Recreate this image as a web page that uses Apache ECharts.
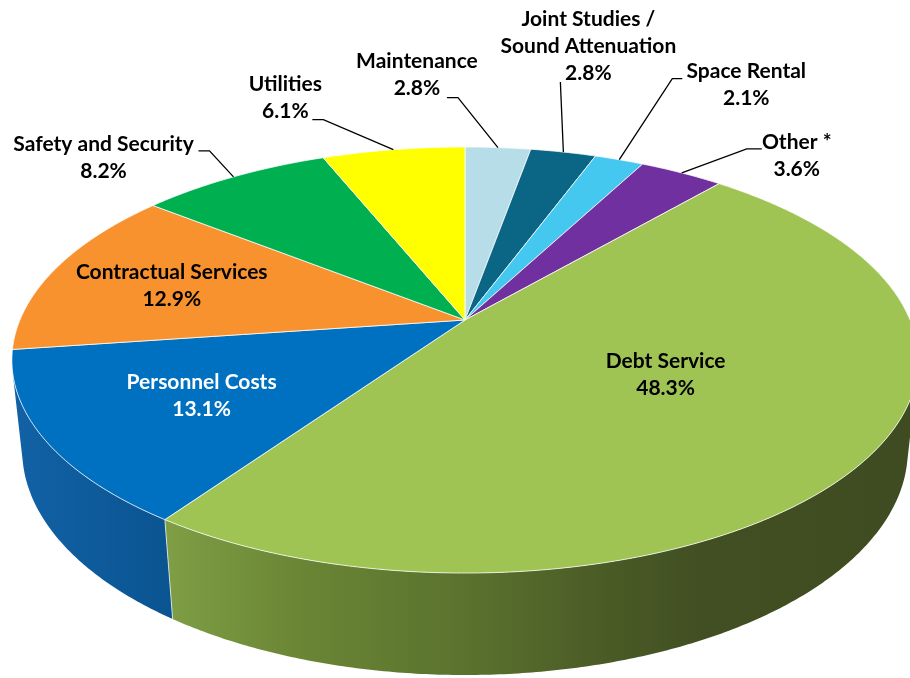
<!DOCTYPE html>
<html>
<head>
<meta charset="utf-8">
<title>Operating Expenses</title>
<script src="https://cdn.jsdelivr.net/npm/echarts@6/dist/echarts.min.js"></script>
<style>
  html, body { margin: 0; padding: 0; background: #ffffff; }
  #chart { width: 910px; height: 678px; }
</style>
</head>
<body>
<div id="chart"></div>
<script>
// ---- data -------------------------------------------------------------
const categories = [
  'Maintenance',
  'Joint Studies /\nSound Attenuation',
  'Space Rental',
  'Other *',
  'Debt Service',
  'Personnel Costs',
  'Contractual Services',
  'Safety and Security',
  'Utilities'
];
const shares = [2.8, 2.8, 2.1, 3.6, 48.3, 13.1, 12.9, 8.2, 6.1];

// ---- styles -----------------------------------------------------------
const topColors = [
  '#b7dee8', '#0b6585', '#45c8f0', '#7030a0', '#9fc454',
  '#0070c0', '#f8922e', '#00b050', '#ffff00'
];
const wallFills = {
  4: new echarts.graphic.LinearGradient(170, 0, 910, 0, [
    { offset: 0, color: '#7e9d44' },
    { offset: 0.18, color: '#6a8535' },
    { offset: 0.4, color: '#5a722e' },
    { offset: 0.58, color: '#4b5c26' },
    { offset: 0.72, color: '#414f22' },
    { offset: 1, color: '#3f4c21' }
  ], true),
  5: new echarts.graphic.LinearGradient(10, 0, 178, 0, [
    { offset: 0, color: '#1262a6' },
    { offset: 1, color: '#0a5390' }
  ], true)
};
// label placement relative to the rim point at each slice's middle angle;
// ax/ay/hl describe the leader line attachment and its short horizontal run
const labelLayout = [
  { dx: -81, dy: -73, ax: 30, ay: 23, hl: 11 },
  { dx: 25, dy: -106, ax: -28, ay: 36, hl: 0 },
  { dx: 127, dy: -75, ax: -64, ay: -6, hl: -10 },
  { dx: 115, dy: -17, ax: -35, ay: -7, hl: -15 },
  { dx: -197, dy: -87 },
  { dx: 157, dy: -44, color: '#ffffff' },
  { dx: 116, dy: 17 },
  { dx: -130, dy: -19, ax: 95, ay: -7, hl: 11 },
  { dx: -108, dy: -52, ax: 27, ay: 22, hl: 11 }
];
const LABEL_FONT = 'bold 21px Lato, "Open Sans", sans-serif';

// ---- perspective view of a tilted disc ------------------------------
const VIEW = { cx: 465, cy: 320, f: 2102, D: 4.723, sinA: 0.4618, cosA: 0.887, h: 0.23 };
function project(X, Z, Y) {
  const depth = VIEW.D - Y * VIEW.sinA - Z * VIEW.cosA;
  const up = Y * VIEW.cosA - Z * VIEW.sinA;
  return [VIEW.cx + VIEW.f * X / depth, VIEW.cy - VIEW.f * up / depth];
}
// angle in degrees, clockwise from the back of the disc
function rim(deg, Y) {
  const r = deg * Math.PI / 180;
  return project(Math.sin(r), -Math.cos(r), Y || 0);
}
// outer wall faces the camera only where Z exceeds this value
const zVisible = 1 / (VIEW.D * VIEW.cosA);
const VIS0 = Math.acos(-zVisible) * 180 / Math.PI;
const VIS1 = 360 - VIS0;

const total = shares.reduce((a, b) => a + b, 0);
const starts = [];
shares.reduce((acc, v) => { starts.push(acc); return acc + v; }, 0);
const seriesData = shares.map((v, i) => [v, starts[i]]);

function sliceAngles(api) {
  const v = api.value(0), s = api.value(1);
  return [s / total * 360, (s + v) / total * 360];
}
function arc(a0, a1, Y) {
  const pts = [];
  const n = Math.max(2, Math.ceil(Math.abs(a1 - a0) / 0.5));
  for (let k = 0; k <= n; k++) pts.push(rim(a0 + (a1 - a0) * k / n, Y));
  return pts;
}

function renderWall(params, api) {
  const i = params.dataIndex;
  const [a0, a1] = sliceAngles(api);
  const lo = Math.max(a0, VIS0), hi = Math.min(a1, VIS1);
  if (hi <= lo) return { type: 'group', children: [] };
  const topArc = arc(lo, hi, 0);
  const botArc = arc(hi, lo, -VIEW.h);
  const children = [{
    type: 'polygon',
    shape: { points: topArc.concat(botArc) },
    style: { fill: wallFills[i] || topColors[i] }
  }];
  if (a0 >= VIS0 && a0 <= VIS1) {
    const p = rim(a0, 0), q = rim(a0, -VIEW.h);
    children.push({
      type: 'line',
      shape: { x1: p[0], y1: p[1], x2: q[0], y2: q[1] },
      style: { stroke: 'rgba(255,255,255,0.7)', lineWidth: 1 }
    });
  }
  return { type: 'group', children };
}

function renderTop(params, api) {
  const i = params.dataIndex;
  const [a0, a1] = sliceAngles(api);
  const pts = [project(0, 0, 0)].concat(arc(a0, a1, 0));
  return {
    type: 'polygon',
    shape: { points: pts },
    style: { fill: topColors[i], stroke: 'rgba(255,255,255,0.75)', lineWidth: 1 }
  };
}

function renderLabel(params, api) {
  const i = params.dataIndex;
  const [a0, a1] = sliceAngles(api);
  const anchor = rim((a0 + a1) / 2, 0);
  const lay = labelLayout[i];
  const cx = anchor[0] + lay.dx, cy = anchor[1] + lay.dy;
  const children = [{
    type: 'text',
    x: cx, y: cy,
    style: {
      text: categories[i] + '\n' + api.value(0).toFixed(1) + '%',
      font: LABEL_FONT,
      fill: lay.color || '#000000',
      align: 'center',
      verticalAlign: 'middle',
      lineHeight: 27
    }
  }];
  if (lay.ax !== undefined) {
    const sx = cx + lay.ax, sy = cy + lay.ay;
    children.push({
      type: 'polyline',
      shape: { points: [[sx, sy], [sx + lay.hl, sy], anchor] },
      style: { stroke: '#000000', lineWidth: 1.3, fill: null }
    });
  }
  return { type: 'group', children };
}

const chart = echarts.init(document.getElementById('chart'), null, { renderer: 'canvas' });
chart.setOption({
  animation: false,
  backgroundColor: '#ffffff',
  series: [
    { type: 'custom', coordinateSystem: 'none', z: 1, data: seriesData, renderItem: renderWall },
    { type: 'custom', coordinateSystem: 'none', z: 2, data: seriesData, renderItem: renderTop },
    { type: 'custom', coordinateSystem: 'none', z: 3, data: seriesData, renderItem: renderLabel }
  ]
});
</script>
</body>
</html>
